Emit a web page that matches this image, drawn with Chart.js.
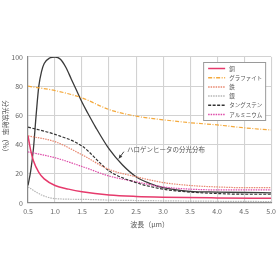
<!DOCTYPE html>
<html>
<head>
<meta charset="utf-8">
<script src="https://cdn.jsdelivr.net/npm/chart.js@4"></script>
<style>
  html, body { margin: 0; padding: 0; background: #ffffff; }
  #wrap { width: 280px; height: 280px; }
</style>
</head>
<body>
<div id="wrap"><canvas id="grafico"></canvas></div>
<script>
// 波長 (μm)
const wl = [0.5, 1.0, 1.5, 2.0, 2.5, 3.0, 3.5, 4.0, 4.5, 5.0];
const xTicks = ['0.5', '1.0', '1.5', '2.0', '2.5', '3.0', '3.5', '4.0', '4.5', '5.0'];
const yTicks = [0, 20, 40, 60, 80, 100];

const dozoX = [0.5, 0.55, 0.6, 0.7, 0.8, 1.0, 1.25, 1.5, 2.0, 2.5, 3.0, 4.0, 5.0];
const dozo = [46, 36, 29, 21, 16.5, 12, 9.5, 7.7, 5.5, 4.5, 4, 3.5, 3.2];
const graphite = [80, 77, 72, 64, 59.5, 57, 55, 53.5, 51.5, 50];
const tetsu = [46, 42, 33, 23, 18, 14, 12, 11, 10.5, 10.5];
const ginX = [0.5, 0.75, 1.0, 1.5, 2.0, 3.0, 4.0, 5.0];
const gin = [11, 5.5, 3, 2.5, 2, 1.5, 1.2, 1];
const tungsten = [52, 47, 39, 22, 14, 9.5, 7.5, 6.5, 6, 6];
const aluminium = [35, 31, 25, 18.5, 14.5, 11, 9.5, 9, 9, 9];
const halogenX = [0.5, 0.55, 0.6, 0.65, 0.7, 0.75, 0.8, 0.9, 1.0, 1.1, 1.2, 1.3, 1.4, 1.5, 1.6, 1.75, 2.0, 2.25, 2.5, 2.75, 3.0, 3.5, 4.0, 4.5, 5.0];
const halogen = [12, 22, 37, 60, 80, 90, 95.5, 99.3, 100, 98.5, 93, 85, 77, 69, 62, 52, 37, 26, 18, 13.5, 10.5, 8, 7.5, 7.2, 7];

const legendNames = ['銅', 'グラファイト', '鉄', '銀', 'タングステン', 'アルミニウム'];
const halogenLabel = 'ハロゲンヒータの分光分布';

const FONT = '"Noto Sans CJK JP", "Noto Sans", sans-serif';

function pts(xs, ys) {
    return xs.map((x, i) => ({ x: x, y: ys[i] }));
}

function serie(label, xs, ys, color, dash, width) {
    return {
        label: label,
        data: pts(xs, ys),
        borderColor: color,
        backgroundColor: color,
        borderWidth: width,
        borderDash: dash,
        pointRadius: 0,
        fill: false,
        cubicInterpolationMode: 'monotone'
    };
}

const datasets = [
    serie(legendNames[0], dozoX, dozo, '#e63a6c', [], 1.5),
    serie(legendNames[1], wl, graphite, '#f4a93c', [4, 1.5, 1, 1.5], 1.2),
    serie(legendNames[2], wl, tetsu, '#e8876f', [1.5, 1], 1.2),
    serie(legendNames[3], ginX, gin, '#b5b5b5', [1.5, 1], 1.2),
    serie(legendNames[4], wl, tungsten, '#333333', [3, 1.5], 1.2),
    serie(legendNames[5], wl, aluminium, '#de4aa8', [1.5, 1], 1.2),
    serie(halogenLabel, halogenX, halogen, '#3a3a3a', [], 1.3)
];

const extras = {
    id: 'extras',
    afterDraw: function (chart) {
        const { ctx, chartArea, scales } = chart;
        ctx.save();

        // y axis title, rotated clockwise
        ctx.translate(6, (chartArea.top + chartArea.bottom) / 2 - 2);
        ctx.rotate(Math.PI / 2);
        ctx.font = '7px ' + FONT;
        ctx.fillStyle = '#555555';
        ctx.textAlign = 'center';
        ctx.textBaseline = 'middle';
        ctx.fillText('分光放射率（%）', 0, 0);
        ctx.setTransform(1, 0, 0, 1, 0, 0);

        // halogen annotation
        const tx = scales.x.getPixelForValue(2.33);
        const ty = scales.y.getPixelForValue(36.5);
        ctx.font = '6.5px ' + FONT;
        ctx.fillStyle = '#555555';
        ctx.textAlign = 'left';
        ctx.textBaseline = 'middle';
        ctx.fillText(halogenLabel, tx, ty);
        const ax0 = tx - 3, ay0 = ty + 2;
        const ax1 = scales.x.getPixelForValue(2.18), ay1 = scales.y.getPixelForValue(30.5);
        ctx.strokeStyle = '#333333';
        ctx.lineWidth = 0.9;
        ctx.beginPath();
        ctx.moveTo(ax0, ay0);
        ctx.lineTo(ax1, ay1);
        ctx.stroke();
        const ang = Math.atan2(ay1 - ay0, ax1 - ax0);
        ctx.fillStyle = '#333333';
        ctx.beginPath();
        ctx.moveTo(ax1, ay1);
        ctx.lineTo(ax1 - 4 * Math.cos(ang - 0.45), ay1 - 4 * Math.sin(ang - 0.45));
        ctx.lineTo(ax1 - 4 * Math.cos(ang + 0.45), ay1 - 4 * Math.sin(ang + 0.45));
        ctx.closePath();
        ctx.fill();

        // legend box
        const bw = 62, bh = 58;
        const bx = chartArea.right - 6 - bw, by = chartArea.top + 5;
        ctx.fillStyle = '#ffffff';
        ctx.fillRect(bx, by, bw, bh);
        ctx.strokeStyle = '#9a9a9a';
        ctx.lineWidth = 1;
        ctx.setLineDash([]);
        ctx.strokeRect(bx + 0.5, by + 0.5, bw, bh);
        for (let i = 0; i < legendNames.length; i++) {
            const ds = chart.data.datasets[i];
            const ly = by + 6.5 + i * 9.2;
            ctx.strokeStyle = ds.borderColor;
            ctx.lineWidth = 1.5;
            ctx.setLineDash(ds.borderDash);
            ctx.beginPath();
            ctx.moveTo(bx + 5, ly);
            ctx.lineTo(bx + 22, ly);
            ctx.stroke();
            ctx.setLineDash([]);
            ctx.fillStyle = '#555555';
            ctx.font = '5.5px ' + FONT;
            ctx.textAlign = 'left';
            ctx.fillText(ds.label, bx + 26, ly);
        }
        ctx.restore();
    }
};

new Chart(document.getElementById('grafico').getContext('2d'), {
    type: 'line',
    data: { datasets: datasets },
    options: {
        responsive: true,
        maintainAspectRatio: false,
        animation: false,
        layout: { padding: { top: 57, right: 4, bottom: 50, left: 0 } },
        plugins: {
            legend: { display: false },
            tooltip: { enabled: false }
        },
        scales: {
            x: {
                type: 'linear',
                min: 0.5,
                max: 5.0,
                afterFit: s => { s.height = 27; },
                afterBuildTicks: s => { s.ticks = wl.map(v => ({ value: v })); },
                ticks: {
                    callback: (v) => xTicks[wl.indexOf(v)],
                    font: { size: 7, family: FONT },
                    color: '#666666',
                    padding: 4,
                    maxRotation: 0
                },
                grid: { color: '#d2d2d2', lineWidth: 1.1, drawTicks: false },
                border: { color: '#8a8a8a', width: 1.2 },
                title: {
                    display: true,
                    text: '波長（μm）',
                    font: { size: 7, family: FONT },
                    color: '#555555',
                    padding: { top: 2, bottom: 1 }
                }
            },
            y: {
                min: 0,
                max: 100,
                afterFit: s => { s.width = 28; },
                afterBuildTicks: s => { s.ticks = yTicks.map(v => ({ value: v })); },
                ticks: {
                    font: { size: 7, family: FONT },
                    color: '#666666',
                    padding: 5
                },
                grid: { color: '#d2d2d2', lineWidth: 1.1, drawTicks: false },
                border: { color: '#8a8a8a', width: 1.2 }
            }
        }
    },
    plugins: [extras]
});
</script>
</body>
</html>
